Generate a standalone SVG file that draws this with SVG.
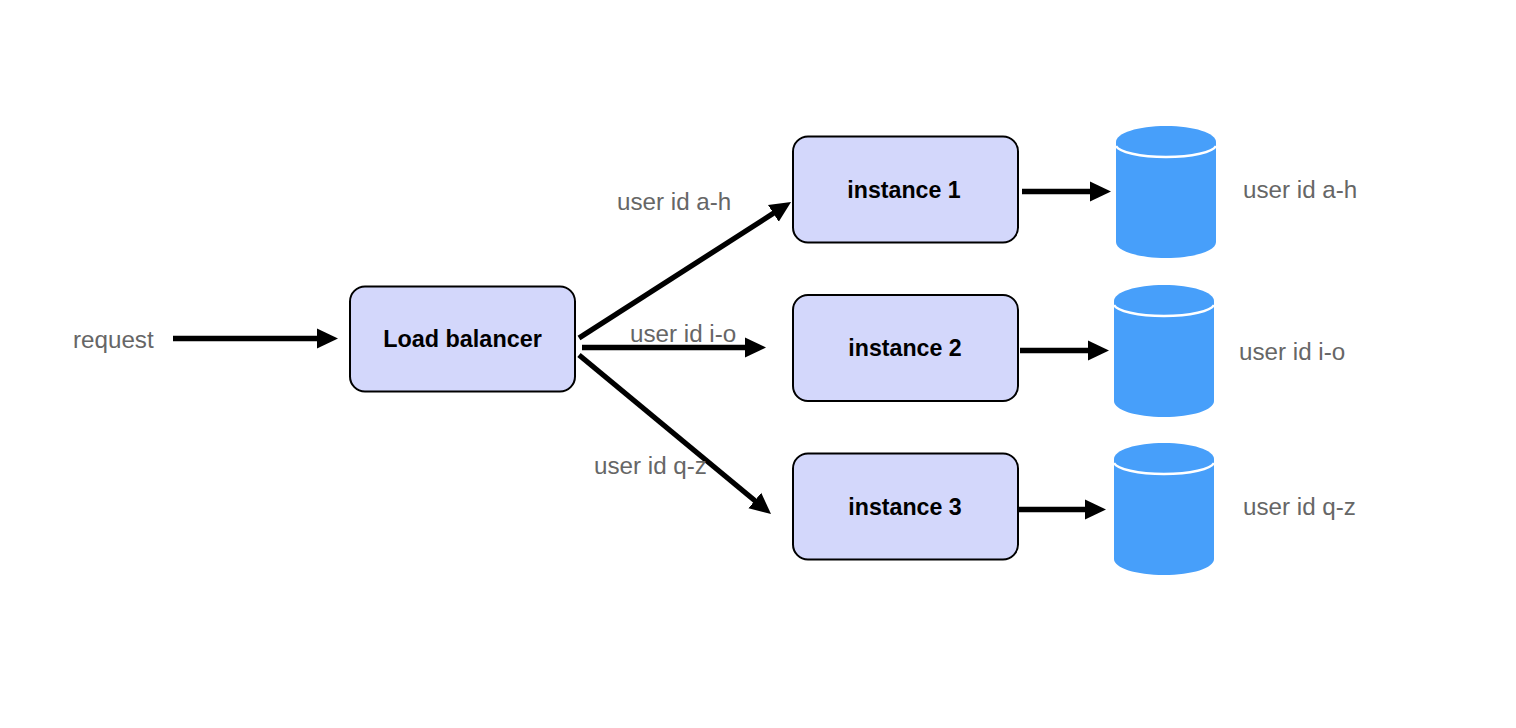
<svg xmlns="http://www.w3.org/2000/svg" width="1516" height="728" viewBox="0 0 1516 728">
<style>
.box{fill:#d3d7fb;stroke:#000;stroke-width:2}
.t{font-family:"Liberation Sans",Arial,sans-serif;font-size:24.2px;fill:#666}
.b{font-family:"Liberation Sans",Arial,sans-serif;font-size:23.200px;font-weight:bold;fill:#000;text-anchor:middle;stroke:none}
.lb{font-size:23.4px}
.c{fill:none;stroke:#000;stroke-width:5.3}
.db{fill:#479ffa}
.dbl{fill:none;stroke:#fff;stroke-width:2.5}
</style>
<defs>
<marker id="a" markerUnits="userSpaceOnUse" markerWidth="22" markerHeight="22" refX="1" refY="10.5" orient="auto"><path d="M0 0.5L21 10.5L0 20.5Z" fill="#000"/></marker>
<g id="cyl"><path class="db" d="M0 16C0 7 22 0 50 0S100 7 100 16V116C100 125 78 132 50 132S0 125 0 116Z"/><path class="dbl" d="M0 20C3 26 24 31 50 31S97 26 100 20"/></g>
</defs>
<rect width="1516" height="728" fill="#fff"/>
<g id="lb"><rect class="box" x="350" y="286.500" width="225" height="105" rx="15"/><text class="b lb" x="462.500" y="347">Load balancer</text></g>
<g id="instance1"><rect class="box" x="793" y="136.500" width="225" height="106" rx="15"/><text class="b" x="904" y="198">instance 1</text></g>
<g id="instance2"><rect class="box" x="793" y="295" width="225" height="106" rx="15"/><text class="b" x="905" y="356">instance 2</text></g>
<g id="instance3"><rect class="box" x="793" y="453.500" width="225" height="106" rx="15"/><text class="b" x="905" y="515">instance 3</text></g>
<g id="db1"><use href="#cyl" x="1116" y="126"/></g>
<g id="db2"><use href="#cyl" x="1114" y="285"/></g>
<g id="db3"><use href="#cyl" x="1114" y="443"/></g>
<g id="connectors">
<path class="c" marker-end="url(#a)" d="M173 338.500H318"/>
<path class="c" marker-end="url(#a)" d="M579 338L774.200 212.800"/>
<path class="c" marker-end="url(#a)" d="M582 347.500H746"/>
<path class="c" marker-end="url(#a)" d="M579 355L755.600 501.200"/>
<path class="c" marker-end="url(#a)" d="M1022 191.500H1091"/>
<path class="c" marker-end="url(#a)" d="M1020 350.500H1089"/>
<path class="c" marker-end="url(#a)" d="M1017 509.500H1086"/>
</g>
<g id="labels">
<text class="t" x="73" y="348">request</text>
<text class="t" x="617" y="210">user id a-h</text>
<text class="t" x="630" y="342">user id i-o</text>
<text class="t" x="594" y="474">user id q-z</text>
<text class="t" x="1243" y="198">user id a-h</text>
<text class="t" x="1239" y="360">user id i-o</text>
<text class="t" x="1243" y="515">user id q-z</text>
</g>
</svg>
